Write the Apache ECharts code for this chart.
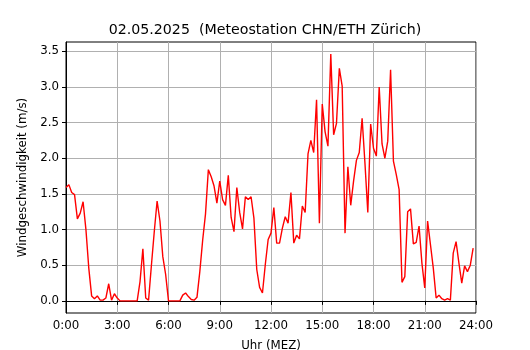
<!DOCTYPE html>
<html>
<head>
<meta charset="utf-8">
<script src="https://cdn.jsdelivr.net/npm/echarts@6/dist/echarts.min.js"></script>
<style>
  html, body { margin: 0; padding: 0; background: #fff; }
  #chart { width: 530px; height: 350px; }
</style>
</head>
<body>
<div id="chart"></div>
<script>
// Windgeschwindigkeit, 10-Minuten-Werte ab 0:00
const stepMinutes = 10
const speed = [
  1.59, 1.63, 1.52, 1.49, 1.15, 1.23, 1.39, 1.00, 0.46, 0.07, 0.03, 0.07,
  0.01, 0.01, 0.04, 0.24, 0.01, 0.10, 0.04, 0.00, 0.00, 0.00, 0.00, 0.00,
  0.00, 0.00, 0.27, 0.73, 0.04, 0.01, 0.50, 0.97, 1.40, 1.12, 0.62, 0.37,
  0.00, 0.00, 0.00, 0.00, 0.00, 0.08, 0.11, 0.06, 0.02, 0.01, 0.05, 0.41,
  0.85, 1.22, 1.84, 1.74, 1.61, 1.37, 1.68, 1.42, 1.34, 1.76, 1.17, 0.97,
  1.59, 1.24, 1.01, 1.46, 1.42, 1.46, 1.16, 0.44, 0.19, 0.11, 0.51, 0.86,
  0.95, 1.31, 0.81, 0.81, 1.02, 1.18, 1.09, 1.52, 0.81, 0.92, 0.87, 1.33,
  1.24, 2.06, 2.25, 2.08, 2.82, 1.09, 2.76, 2.37, 2.17, 3.46, 2.33, 2.49,
  3.26, 3.01, 0.95, 1.88, 1.34, 1.68, 1.97, 2.08, 2.56, 1.93, 1.24, 2.48,
  2.14, 2.03, 3.00, 2.20, 2.00, 2.24, 3.24, 1.96, 1.77, 1.56, 0.26, 0.34,
  1.25, 1.29, 0.80, 0.82, 1.05, 0.53, 0.18, 1.12, 0.79, 0.46, 0.04, 0.08,
  0.03, 0.01, 0.03, 0.01, 0.67, 0.83, 0.53, 0.25, 0.49, 0.41, 0.50, 0.74,
]
const xTicks = [0, 3, 6, 9, 12, 15, 18, 21, 24]
const xTickLabels = ['0:00', '3:00', '6:00', '9:00', '12:00', '15:00', '18:00', '21:00', '24:00']
const yTicks = [0, 0.5, 1, 1.5, 2, 2.5, 3, 3.5]

const font = 'DejaVu Sans'
const points = speed.map((v, i) => [i * stepMinutes / 60, v])

const chart = echarts.init(document.getElementById('chart'), null, { renderer: 'canvas' })

chart.setOption({
  animation: false,
  backgroundColor: '#fff',
  title: {
    text: '02.05.2025  (Meteostation CHN/ETH Zürich)',
    left: 'center',
    top: 18,
    textStyle: { fontFamily: font, fontSize: 14.2, fontWeight: 'normal', color: '#000' },
  },
  grid: {
    left: 66, right: 54, top: 42, bottom: 37,
    outerBoundsMode: 'none',
    containLabel: false,
    show: true, borderColor: '#000', borderWidth: 1,
  },
  xAxis: {
    type: 'value',
    min: 0, max: 24, interval: 3,
    name: 'Uhr (MEZ)',
    nameLocation: 'middle',
    nameGap: 27,
    nameTextStyle: { fontFamily: font, fontSize: 11.8, color: '#000' },
    axisLine: { lineStyle: { color: '#000', width: 1 } },
    axisTick: { length: 4, lineStyle: { color: '#000' } },
    axisLabel: {
      fontFamily: font, fontSize: 11.8, color: '#000', margin: 7,
      formatter: v => xTickLabels[xTicks.indexOf(v)] ?? '',
    },
    splitLine: { lineStyle: { color: '#b0b0b0', width: 1 } },
  },
  yAxis: {
    type: 'value',
    min: -0.17, max: 3.63,
    name: 'Windgeschwindigkeit (m/s)',
    nameLocation: 'middle',
    nameGap: 36,
    nameTextStyle: { fontFamily: font, fontSize: 11.8, color: '#000' },
    axisLine: { show: true, lineStyle: { color: '#000', width: 1 } },
    axisTick: { show: true, length: 4, lineStyle: { color: '#000' }, customValues: yTicks },
    axisLabel: {
      fontFamily: font, fontSize: 11.8, color: '#000', margin: 7,
      customValues: yTicks,
      formatter: v => v.toFixed(1),
    },
    splitLine: { lineStyle: { color: '#b0b0b0', width: 1 } },
  },
  series: [{
    type: 'line',
    data: points,
    showSymbol: false,
    lineStyle: { color: '#ff0000', width: 1.4 },
    clip: true,
  }],
})
</script>
</body>
</html>
